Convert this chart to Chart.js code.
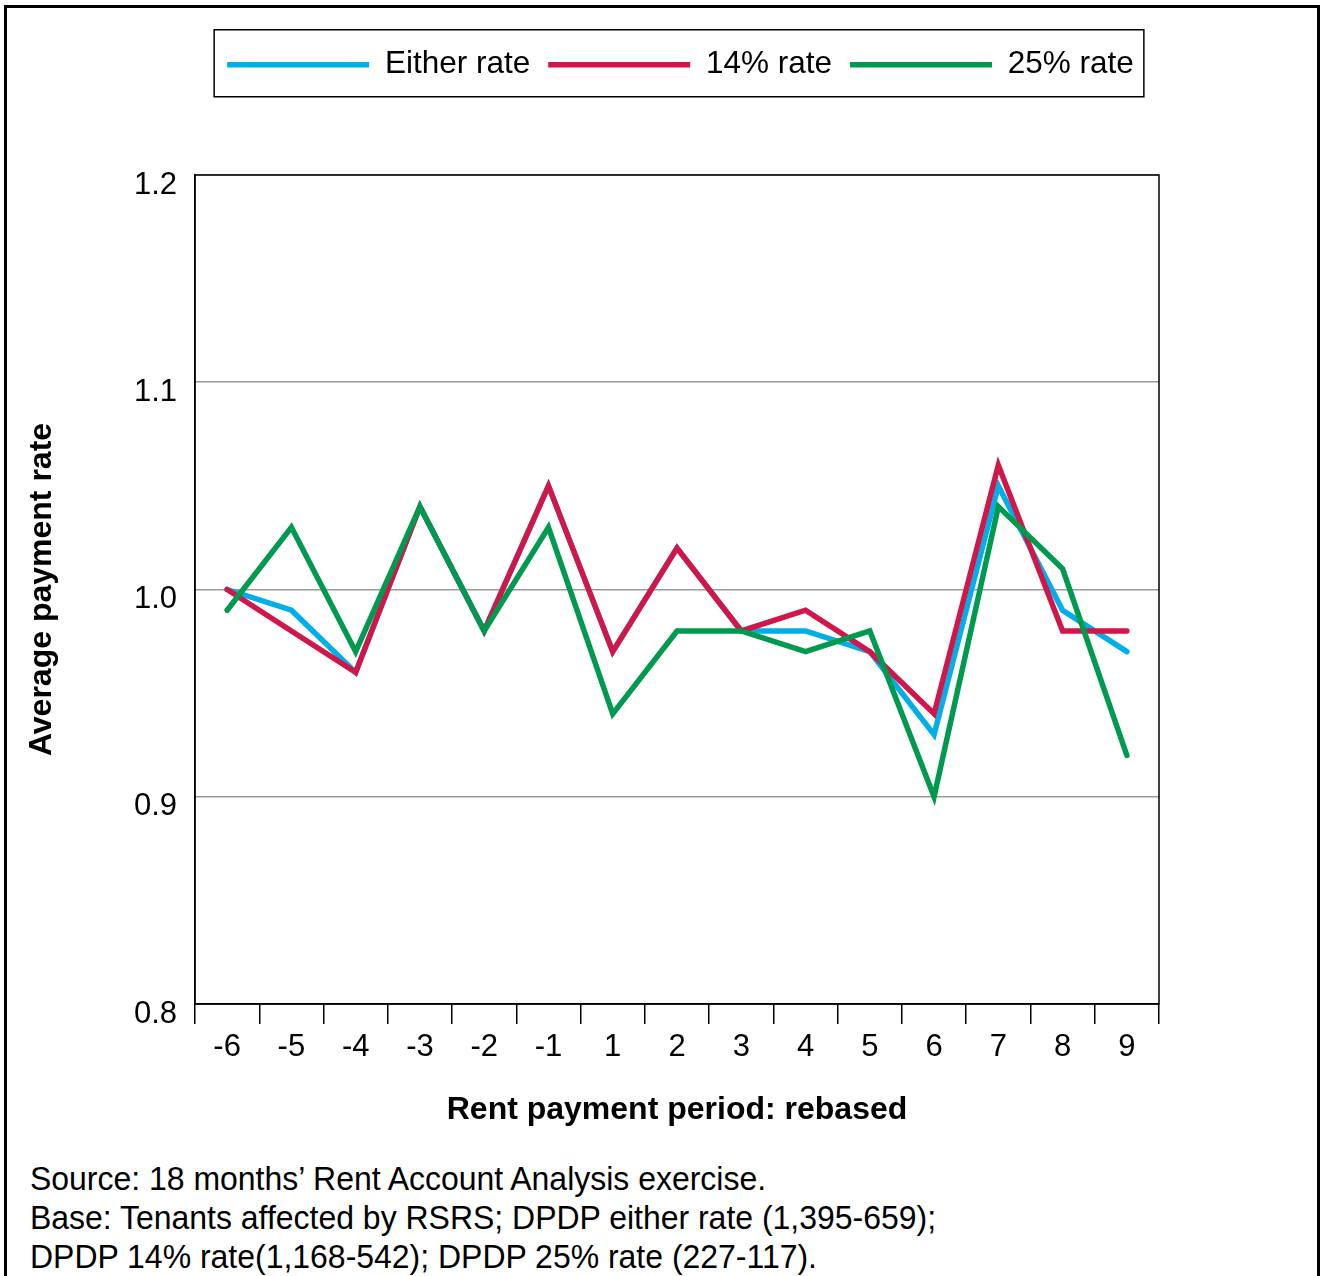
<!DOCTYPE html>
<html>
<head>
<meta charset="utf-8">
<script src="https://cdn.jsdelivr.net/npm/chart.js@4.4.1/dist/chart.umd.min.js"></script>
<style>
  html, body { margin: 0; padding: 0; background: #fff; overflow: hidden; }
  #page { position: relative; width: 1321px; height: 1276px; overflow: hidden; }
  #frame { position: absolute; left: 4px; top: 5px; width: 1316px; height: 1300px; border: 3px solid #000; box-sizing: border-box; }
  #chart { position: absolute; left: 0; top: 0; }
  #notes { position: absolute; left: 30px; top: 1159px; font-family: "Liberation Sans", Arial, sans-serif; font-size: 34px; line-height: 39px; color: #000; white-space: nowrap; transform: scaleX(0.94); transform-origin: 0 0; }
</style>
</head>
<body>
<div id="page">
  <div id="frame"></div>
  <canvas id="chart" width="1341" height="1134"></canvas>
  <div id="notes">
    <div>Source: 18 months’ Rent Account Analysis exercise.</div>
    <div>Base: Tenants affected by RSRS; DPDP either rate (1,395-659);</div>
    <div>DPDP 14% rate(1,168-542); DPDP 25% rate (227-117).</div>
  </div>
</div>
<script>
// rent payment periods, rebased
const periods = ['-6', '-5', '-4', '-3', '-2', '-1', '1', '2', '3', '4', '5', '6', '7', '8', '9'];

// average payment rate per period
const eitherRate = [1.00, 0.99, 0.96, 1.04, 0.98, 1.05, 0.97, 1.02, 0.98, 0.98, 0.97, 0.93, 1.05, 0.99, 0.97];
const rate14 = [1.00, 0.98, 0.96, 1.04, 0.98, 1.05, 0.97, 1.02, 0.98, 0.99, 0.97, 0.94, 1.06, 0.98, 0.98];
const rate25 = [0.99, 1.03, 0.97, 1.04, 0.98, 1.03, 0.94, 0.98, 0.98, 0.97, 0.98, 0.90, 1.04, 1.01, 0.92];

const yTicks = [0.8, 0.9, 1.0, 1.1, 1.2];

Chart.defaults.font.family = '"Liberation Sans", Arial, sans-serif';
Chart.defaults.font.size = 31;
Chart.defaults.color = '#000';

// box round the plot area
const plotFrame = {
  id: 'plotFrame',
  beforeDatasetsDraw(chart){
    const a = chart.chartArea, ctx = chart.ctx;
    ctx.save();
    ctx.strokeStyle = '#000';
    ctx.lineWidth = 1.5;
    ctx.strokeRect(a.left, a.top, a.right - a.left, a.bottom - a.top);
    ctx.restore();
  }
};

// box round the legend items
const legendFrame = {
  id: 'legendFrame',
  afterDraw(chart){
    const boxes = chart.legend && chart.legend.legendHitBoxes;
    if(!boxes || !boxes.length) return;
    const x0 = Math.min(...boxes.map(b => b.left)) - 13;
    const x1 = Math.max(...boxes.map(b => b.left + b.width)) + 10;
    const cy = boxes[0].top + boxes[0].height / 2;
    const ctx = chart.ctx;
    ctx.save();
    ctx.strokeStyle = '#000';
    ctx.lineWidth = 1.5;
    ctx.strokeRect(x0, cy - 35, x1 - x0, 67);
    ctx.restore();
  }
};

const lineStyle = { borderWidth: 5.5, pointRadius: 0, tension: 0, fill: false, borderCapStyle: 'round', borderJoinStyle: 'miter' };

new Chart(document.getElementById('chart'), {
  type: 'line',
  data: {
    labels: periods,
    datasets: [
      { label: 'Either rate', data: eitherRate, borderColor: '#00aee8', backgroundColor: '#00aee8', order: 3, ...lineStyle },
      { label: '14% rate', data: rate14, borderColor: '#d2164a', backgroundColor: '#d2164a', order: 2, ...lineStyle },
      { label: '25% rate', data: rate25, borderColor: '#009a4e', backgroundColor: '#009a4e', order: 1, ...lineStyle }
    ]
  },
  options: {
    responsive: false,
    animation: false,
    layout: { padding: { left: 20, top: 31, right: 0, bottom: 0 } },
    plugins: {
      legend: {
        position: 'top',
        labels: {
          usePointStyle: true,
          pointStyle: 'line',
          pointStyleWidth: 142,
          padding: 18,
          font: { size: 31.5 },
          sort: (a, b) => a.datasetIndex - b.datasetIndex
        }
      },
      subtitle: { display: true, text: '', weight: 500, font: { size: 10 }, padding: { top: 72.5, bottom: 0 } },
      tooltip: { enabled: false }
    },
    scales: {
      x: {
        offset: true,
        grid: { display: true, offset: true, drawOnChartArea: false, drawTicks: true, tickLength: 20, color: '#000', lineWidth: 1.5 },
        border: { display: true, color: '#000', width: 1.5 },
        ticks: { padding: 5, font: { size: 31 }, maxRotation: 0, autoSkip: false },
        title: { display: true, text: 'Rent payment period: rebased', font: { size: 32, weight: 'bold' }, padding: { top: 0, bottom: 5 } },
        afterFit: s => { s.height = 130; }
      },
      y: {
        min: yTicks[0],
        max: yTicks[yTicks.length - 1],
        afterBuildTicks: s => { s.ticks = yTicks.map(v => ({ value: v })); },
        grid: { color: '#9a9a9a', lineWidth: 1.5, drawTicks: false },
        border: { display: true, color: '#000', width: 1.5 },
        ticks: { padding: 18, labelOffset: 10, font: { size: 31 }, callback: v => Number(v).toFixed(1) },
        title: { display: true, text: 'Average payment rate', font: { size: 32, weight: 'bold' }, padding: { top: 3, bottom: 0 } },
        afterFit: s => { s.width = 175; }
      },
      spare: {
        axis: 'y',
        position: 'right',
        display: true,
        grid: { display: false },
        border: { display: false },
        ticks: { display: false },
        afterFit: s => { s.width = 182; }
      }
    }
  },
  plugins: [plotFrame, legendFrame]
});
</script>
</body>
</html>
